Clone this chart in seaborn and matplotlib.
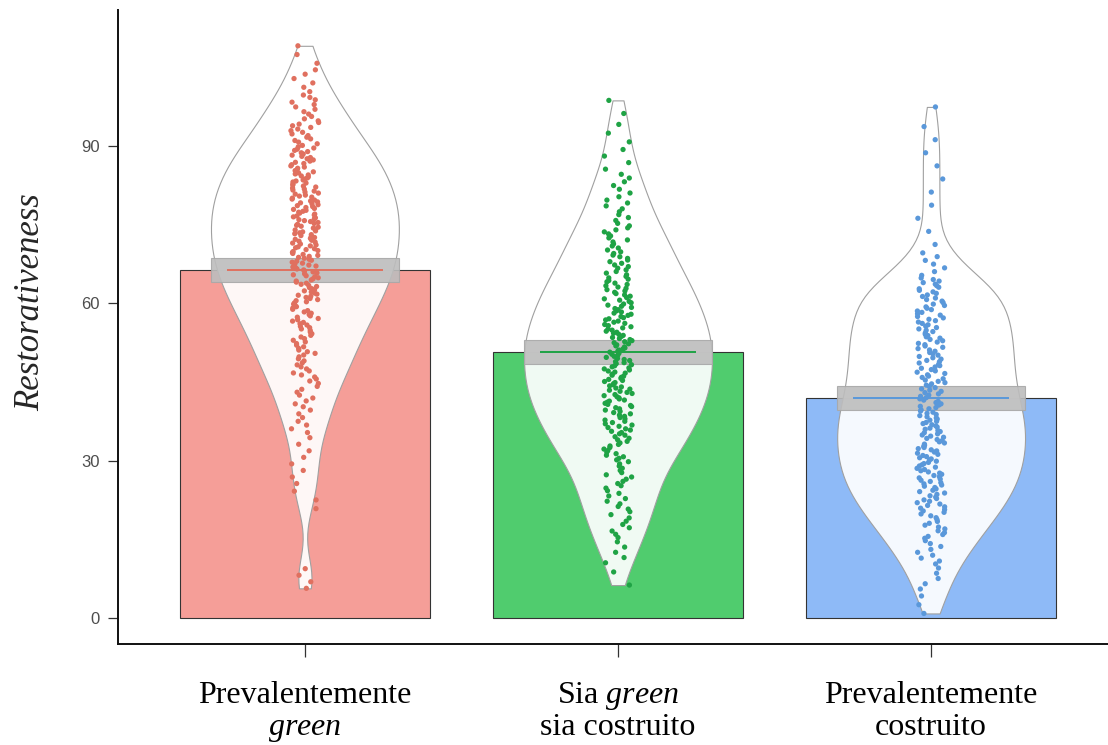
import numpy as np
import pandas as pd
import matplotlib
matplotlib.use("Agg")
import matplotlib.pyplot as plt
import seaborn as sns

# Categories; two text lines per tick label ("green" in italics)
groups = ["G1", "G2", "G3"]
label_line1 = ["Prevalentemente", "Sia $\\mathit{green}$", "Prevalentemente"]
label_line2 = ["$\\mathit{green}$", "sia costruito", "costruito"]

# Histogram of the point clouds (5-unit bins, 0..110)
bin_starts = list(range(0, 110, 5))
counts_g1 = [0, 4, 0, 0, 3, 4, 4, 7, 9, 13, 16, 20, 24, 27, 28, 28, 26, 22, 16, 11, 6, 3]
counts_g2 = [0, 2, 5, 8, 10, 12, 17, 21, 24, 25, 25, 23, 20, 16, 13, 9, 7, 4, 3, 2, 0, 0]
counts_g3 = [3, 5, 9, 14, 19, 22, 23, 23, 21, 20, 20, 19, 17, 7, 2, 2, 2, 2, 2, 1, 0, 0]

# Group means and half-width of the grey inference band
means = [66.3, 50.8, 42.0]
band_half = [2.3, 2.3, 2.3]

bar_colors = ["#F59E98", "#50CC6E", "#8EBAF7"]
point_colors = ["#E0705F", "#1FA345", "#5A98DA"]


def expand(counts):
    vals = []
    for start, n in zip(bin_starts, counts):
        vals += [start + 5 * (k + 0.5) / n for k in range(n)]
    return vals


rows = []
for g, c in zip(groups, [counts_g1, counts_g2, counts_g3]):
    rows += [(g, v) for v in expand(c)]
df = pd.DataFrame(rows, columns=["group", "value"])
summary = pd.DataFrame({"group": groups, "mean": means, "half": band_half})

sns.set_style("ticks")
plt.rcParams["mathtext.fontset"] = "custom"
plt.rcParams["mathtext.rm"] = "Liberation Serif"
plt.rcParams["mathtext.it"] = "Liberation Serif:italic"

fig = plt.figure(figsize=(11.08, 7.45), dpi=100)
ax = fig.add_axes([118 / 1108, 101 / 745, 990 / 1108, 634 / 745])

# bars of the means
sns.barplot(data=summary, x="group", y="mean", hue="group", palette=bar_colors,
            saturation=1, width=0.8, edgecolor="#333333", linewidth=0.8,
            legend=False, ax=ax, zorder=1)

# violins (white, translucent)
n_before = len(ax.collections)
sns.violinplot(data=df, x="group", y="value", color="white", inner=None, cut=0,
               bw_adjust=0.6, density_norm="width", width=0.6,
               linecolor="#a0a0a0", linewidth=0.8, ax=ax)
for coll in ax.collections[n_before:]:
    coll.set_facecolor((1, 1, 1, 0.92))
    coll.set_edgecolor("#a0a0a0")
    coll.set_zorder(2)

# grey band and mean line
ax.bar(np.arange(3), [2 * h for h in band_half],
       bottom=[m - h for m, h in zip(means, band_half)], width=0.6,
       color="#BDBDBD", alpha=0.9, edgecolor="#A8A8A8", linewidth=0.8, zorder=3)
for i, m in enumerate(means):
    ax.hlines(m, i - 0.25, i + 0.25, color=point_colors[i], linewidth=1.4, zorder=4)

# jittered points
np.random.seed(3)
n_before = len(ax.collections)
sns.stripplot(data=df, x="group", y="value", hue="group", palette=point_colors,
              jitter=0.045, size=3.8, linewidth=0, legend=False, ax=ax)
for coll in ax.collections[n_before:]:
    coll.set_zorder(5)

ax.set_xlim(-0.597, 2.565)
ax.set_ylim(-5.0, 116)
ax.set_yticks([0, 30, 60, 90])
ax.set_xticks([0, 1, 2])
ax.set_xticklabels([])
for i in range(3):
    for line, off in [(label_line1[i], -42.5), (label_line2[i], -65.5)]:
        ax.annotate(line, xy=(i, 0), xycoords=("data", "axes fraction"),
                    xytext=(0, off), textcoords="offset points",
                    ha="center", va="baseline", fontsize=23,
                    fontfamily="Liberation Serif", color="black")
ax.tick_params(axis="x", length=9, width=0.9, color="#333333")
ax.tick_params(axis="y", length=7, width=0.9, color="#333333", pad=6,
               labelsize=12, labelcolor="#4D4D4D")
for lab in ax.get_yticklabels():
    lab.set_fontfamily("Liberation Sans")

ax.set_xlabel("")
ax.set_ylabel("Restorativeness", fontfamily="Liberation Serif", fontstyle="italic",
              fontsize=25)
ax.yaxis.set_label_coords(-0.072, 0.54)

sns.despine(ax=ax)
for s in ["left", "bottom"]:
    ax.spines[s].set_linewidth(1.4)
    ax.spines[s].set_color("#111111")

fig.savefig("out.png", dpi=100)
